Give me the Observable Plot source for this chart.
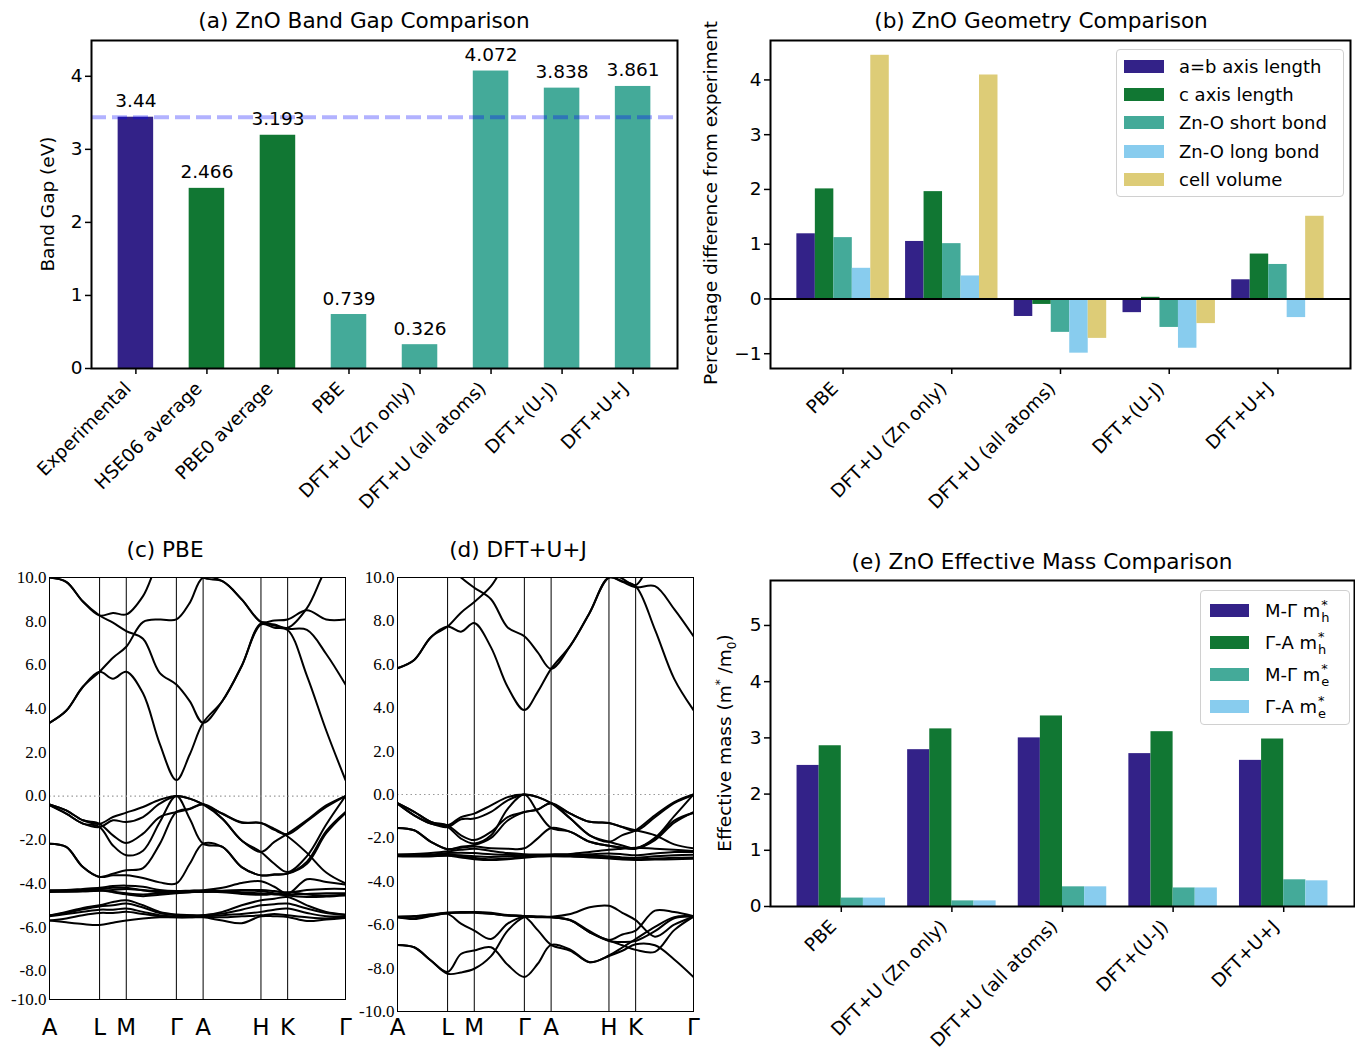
<!DOCTYPE html>
<html>
<head>
<meta charset="utf-8">
<script src="https://cdn.jsdelivr.net/npm/d3@7"></script>
<script src="https://cdn.jsdelivr.net/npm/@observablehq/plot@0.6"></script>
<style>
html,body{margin:0;padding:0;background:#fff;}
#fig{position:relative;width:1355px;height:1057px;overflow:hidden;background:#fff;font-family:"DejaVu Sans",sans-serif;color:#000;}
.panel{position:absolute;}
.panel svg{overflow:visible;display:block;}
.title{position:absolute;font-size:21.6px;transform:translate(-50%,-50%);white-space:nowrap;}
.ylab{position:absolute;font-size:18.5px;transform:translate(-50%,-50%) rotate(-90deg);white-space:nowrap;}
.legend{position:absolute;box-sizing:border-box;background:rgba(255,255,255,0.85);border:1px solid #d0d0d0;border-radius:4px;font-size:18px;}
.row{display:flex;align-items:center;white-space:nowrap;}
.sw{flex:none;}
.ss{position:relative;display:inline-block;width:9px;height:14px;vertical-align:baseline;}
.ss span{position:absolute;left:1px;font-size:13px;line-height:13px;}
</style>
</head>
<body>
<div id="fig"></div>
<script>
// ---------------- (a) band gap data ----------------
const gapCategories = ["Experimental","HSE06 average","PBE0 average","PBE","DFT+U (Zn only)","DFT+U (all atoms)","DFT+(U-J)","DFT+U+J"];
const gapValues = [3.44, 2.466, 3.193, 0.739, 0.326, 4.072, 3.838, 3.861];
const gapLabels = ["3.44","2.466","3.193","0.739","0.326","4.072","3.838","3.861"];
const gapGroup = ["Experiment","Hybrid","Hybrid","DFT","DFT","DFT","DFT","DFT"];
const gapGroupNames = ["Experiment","Hybrid","DFT"];
const gapColors = ["#332288","#117733","#44AA99"];
const experimentalGap = 3.44;

// ---------------- (b) geometry data ----------------
const geomMethods = ["PBE","DFT+U (Zn only)","DFT+U (all atoms)","DFT+(U-J)","DFT+U+J"];
const geomSeries = ["a=b axis length","c axis length","Zn-O short bond","Zn-O long bond","cell volume"];
const geomColors = ["#332288","#117733","#44AA99","#88CCEE","#DDCC77"];
const geomAB    = [1.19, 1.05, -0.32, -0.25, 0.35];
const geomC     = [2.01, 1.96, -0.10, 0.03, 0.82];
const geomShort = [1.12, 1.01, -0.61, -0.52, 0.63];
const geomLong  = [0.56, 0.42, -0.99, -0.90, -0.34];
const geomVol   = [4.45, 4.09, -0.72, -0.45, 1.51];

// ---------------- (e) effective mass data ----------------
const massMethods = ["PBE","DFT+U (Zn only)","DFT+U (all atoms)","DFT+(U-J)","DFT+U+J"];
const massSeries = ["M-Γ mh*","Γ-A mh*","M-Γ me*","Γ-A me*"];
const massSeriesBase = ["M-Γ m","Γ-A m","M-Γ m","Γ-A m"];
const massSeriesSub = ["h","h","e","e"];
const massColors = ["#332288","#117733","#44AA99","#88CCEE"];
const massMGh = [2.51, 2.79, 3.00, 2.72, 2.60];
const massGAh = [2.86, 3.16, 3.39, 3.11, 2.98];
const massMGe = [0.15, 0.10, 0.35, 0.33, 0.475];
const massGAe = [0.15, 0.10, 0.35, 0.33, 0.457];

// ---------------- band structures ----------------
const kGrid  = [0, 0.333, 0.667, 1, 1.267, 1.533, 1.867, 2.2, 2.533, 2.8, 3.067, 3.452, 3.837, 4.222, 4.489, 4.755, 5.140, 5.525, 5.910];
const kTicks = [0, 1, 1.533, 2.533, 3.067, 4.222, 4.755, 5.910];
const kLabels = ["A","L","M","Γ","A","H","K","Γ"];
const bandTickLabels = ["10.0","8.0","6.0","4.0","2.0","0.0","-2.0","-4.0","-6.0","-8.0","-10.0"];
const pbeTickValues = [10,8,6,4,2,0,-2,-4,-6,-8,-9.31];
const dftTickValues = [10,8,6,4,2,0,-2,-4,-6,-8,-10];

// (c) PBE bands, energies (eV) at kGrid
const pbeC1 = [3.35, 3.9, 5.0, 5.69, 5.37, 5.69, 4.7, 2.4, 0.73, 1.9, 3.35, 4.35, 5.95, 7.85, 7.7, 7.6, 5.5, 3.0, 0.73];
const pbeC2 = [10.0, 9.8, 8.9, 8.26, 7.93, 7.55, 7.2, 5.64, 5.1, 4.34, 3.35, 4.35, 5.95, 7.9, 7.8, 7.65, 7.6, 6.5, 5.1];
const pbeC3 = [3.35, 3.9, 5.0, 5.69, 6.33, 6.83, 7.96, 8.08, 8.08, 8.84, 10.0, 9.83, 9.0, 7.97, 8.03, 8.08, 8.5, 8.08, 8.08];
const pbeC4 = [10.0, 9.8, 8.9, 8.26, 8.38, 8.31, 9.15, 10.8, 11.5, 10.8, 10.0, 9.83, 9.0, 7.97, 7.85, 7.7, 8.6, 10.4, 11.5];
const pbeV1 = [-0.38, -0.66, -1.11, -1.27, -0.96, -0.76, -0.5, -0.17, 0, -0.12, -0.38, -0.8, -1.2, -1.23, -1.5, -1.85, -2.6, -3.5, -4.0];
const pbeV2 = [-0.42, -0.81, -1.26, -1.42, -1.11, -1.19, -0.96, -0.35, 0, -0.12, -0.38, -1.04, -2.03, -2.56, -2.1, -1.72, -1.1, -0.43, 0];
const pbeV3 = [-0.38, -0.66, -1.11, -1.27, -1.8, -2.15, -1.72, -0.96, -0.73, -0.6, -0.38, -0.82, -1.22, -1.23, -1.55, -1.75, -1.15, -0.5, 0];
const pbeV4 = [-0.42, -0.81, -1.26, -1.42, -2.26, -2.71, -2.5, -1.2, 0, -1.04, -2.18, -2.33, -3.25, -3.63, -3.6, -3.55, -3.0, -1.6, -0.73];
const pbeV5 = [-2.18, -2.33, -3.25, -3.7, -3.55, -3.4, -3.3, -2.2, -0.73, -0.58, -0.38, -1.04, -2.03, -2.56, -3.1, -3.48, -2.75, -1.3, 0];
const pbeV6 = [-2.18, -2.33, -3.25, -3.7, -3.63, -3.63, -3.75, -3.95, -4.0, -3.1, -2.18, -2.33, -3.25, -3.63, -3.58, -3.55, -3.1, -1.7, -0.78];
const pbeD1 = [-4.31, -4.3, -4.25, -4.2, -4.12, -4.1, -4.15, -4.3, -4.35, -4.33, -4.31, -4.2, -3.98, -3.9, -4.15, -4.47, -3.81, -3.93, -4.05];
const pbeD2 = [-4.33, -4.32, -4.3, -4.25, -4.2, -4.2, -4.3, -4.35, -4.36, -4.34, -4.33, -4.33, -4.3, -4.3, -4.35, -4.42, -4.3, -4.25, -4.25];
const pbeD3 = [-4.35, -4.35, -4.33, -4.3, -4.38, -4.45, -4.5, -4.45, -4.4, -4.37, -4.35, -4.37, -4.42, -4.45, -4.5, -4.52, -4.48, -4.45, -4.45];
const pbeD4 = [-4.37, -4.37, -4.36, -4.32, -4.4, -4.5, -4.58, -4.52, -4.45, -4.4, -4.37, -4.4, -4.48, -4.52, -4.48, -4.4, -4.5, -4.55, -4.52];
const pbeD5 = [-4.39, -4.38, -4.36, -4.33, -4.3, -4.25, -4.32, -4.4, -4.42, -4.4, -4.39, -4.37, -4.33, -4.35, -4.45, -4.55, -4.62, -4.6, -4.55];
const pbeD6 = [-5.46, -5.3, -5.12, -5.0, -4.85, -4.77, -5.0, -5.3, -5.42, -5.45, -5.46, -5.3, -5.0, -4.77, -4.7, -4.62, -5.0, -5.3, -5.42];
const pbeD7 = [-5.46, -5.35, -5.18, -5.05, -5.0, -4.92, -5.1, -5.35, -5.45, -5.46, -5.46, -5.38, -5.2, -5.0, -4.95, -4.92, -5.15, -5.35, -5.45];
const pbeD8 = [-5.5, -5.4, -5.3, -5.2, -5.2, -5.15, -5.3, -5.45, -5.5, -5.5, -5.5, -5.45, -5.4, -5.3, -5.2, -5.15, -5.35, -5.5, -5.5];
const pbeD9 = [-5.69, -5.6, -5.45, -5.35, -5.35, -5.3, -5.4, -5.5, -5.55, -5.55, -5.53, -5.55, -5.5, -5.46, -5.4, -5.46, -5.55, -5.6, -5.55];
const pbeD10 = [-5.69, -5.78, -5.86, -5.9, -5.8, -5.69, -5.6, -5.55, -5.55, -5.55, -5.55, -5.7, -5.82, -5.5, -5.5, -5.53, -5.72, -5.65, -5.58];
const pbeBandList = [pbeC1,pbeC2,pbeC3,pbeC4,pbeV1,pbeV2,pbeV3,pbeV4,pbeV5,pbeV6,pbeD1,pbeD2,pbeD3,pbeD4,pbeD5,pbeD6,pbeD7,pbeD8,pbeD9,pbeD10];

// (d) DFT+U+J bands
const dftC1 = [5.82, 6.2, 7.25, 7.74, 7.5, 7.9, 6.78, 4.95, 3.89, 4.73, 5.79, 6.86, 8.38, 10.0, 9.83, 9.6, 7.6, 5.33, 3.89];
const dftC2 = [5.82, 6.2, 7.25, 7.74, 8.38, 8.87, 9.6, 10.8, 11.5, 11.2, 10.9, 11.0, 11.0, 10.3, 9.95, 9.65, 11.0, 11.5, 11.5];
const dftC3 = [12.4, 12.0, 11.2, 10.6, 10.0, 9.53, 9.0, 7.7, 7.29, 6.55, 5.79, 6.86, 8.38, 10.0, 9.8, 9.55, 9.6, 8.54, 7.29];
const dftU1 = [-0.4, -0.8, -1.26, -1.42, -1.04, -0.88, -0.5, -0.12, 0, -0.12, -0.4, -0.88, -1.26, -1.31, -1.5, -1.65, -1.88, -2.3, -2.48];
const dftU2 = [-0.42, -0.96, -1.34, -1.5, -1.14, -1.11, -0.8, -0.27, 0, -0.12, -0.4, -1.11, -1.88, -2.18, -1.87, -1.65, -0.96, -0.35, 0];
const dftU3 = [-0.4, -0.8, -1.26, -1.42, -1.88, -2.1, -1.72, -1.04, -0.81, -0.69, -0.4, -0.88, -1.26, -1.31, -1.5, -1.68, -1.05, -0.4, -0.02];
const dftU4 = [-0.42, -0.96, -1.34, -1.5, -2.03, -2.26, -1.88, -0.66, 0, -0.81, -1.54, -1.72, -2.18, -2.36, -2.45, -2.48, -2.05, -1.2, -0.85];
const dftU5 = [-1.54, -1.65, -2.18, -2.52, -2.41, -2.33, -2.0, -1.2, -0.81, -0.69, -0.4, -1.11, -1.88, -2.18, -2.35, -2.48, -2.0, -1.0, 0];
const dftU6 = [-1.54, -1.65, -2.18, -2.52, -2.45, -2.4, -2.48, -2.5, -2.48, -2.02, -1.54, -1.72, -2.18, -2.36, -2.45, -2.5, -2.1, -1.3, -0.81];
const dftF1 = [-2.76, -2.74, -2.7, -2.62, -2.55, -2.5, -2.6, -2.7, -2.75, -2.76, -2.76, -2.74, -2.65, -2.55, -2.5, -2.45, -2.5, -2.55, -2.6];
const dftF2 = [-2.78, -2.78, -2.76, -2.7, -2.68, -2.7, -2.75, -2.78, -2.8, -2.8, -2.78, -2.78, -2.75, -2.72, -2.75, -2.8, -2.72, -2.65, -2.65];
const dftF3 = [-2.8, -2.8, -2.8, -2.78, -2.8, -2.85, -2.88, -2.85, -2.82, -2.81, -2.8, -2.8, -2.8, -2.85, -2.9, -2.92, -2.85, -2.8, -2.78];
const dftF4 = [-2.82, -2.83, -2.84, -2.8, -2.85, -2.92, -2.98, -2.95, -2.88, -2.84, -2.82, -2.83, -2.86, -2.9, -2.96, -2.98, -2.95, -2.92, -2.9];
const dftF5 = [-2.84, -2.86, -2.85, -2.82, -2.9, -2.98, -3.02, -2.98, -2.92, -2.86, -2.84, -2.86, -2.9, -2.95, -3.0, -3.02, -3.0, -2.98, -2.96];
const dftW1 = [-5.63, -5.6, -5.52, -5.44, -5.42, -5.41, -5.45, -5.55, -5.6, -5.62, -5.63, -5.51, -5.2, -5.13, -5.45, -5.79, -6.55, -6.0, -5.63];
const dftW2 = [-5.66, -5.74, -5.6, -5.46, -5.44, -5.43, -5.5, -5.58, -5.62, -5.64, -5.66, -5.8, -6.35, -6.73, -6.95, -7.16, -7.25, -6.25, -5.63];
const dftW3 = [-5.63, -5.62, -5.55, -5.5, -5.95, -6.27, -6.66, -5.95, -5.62, -5.63, -5.65, -5.78, -6.3, -6.7, -6.45, -6.27, -5.35, -5.42, -5.6];
const dftW4 = [-5.66, -5.7, -5.58, -5.46, -5.45, -5.45, -5.5, -5.58, -5.63, -6.25, -6.93, -7.2, -7.73, -7.42, -7.05, -6.66, -6.1, -5.65, -5.62];
const dftW5 = [-6.93, -7.04, -7.65, -8.18, -7.35, -7.19, -7.04, -7.85, -8.41, -7.8, -6.93, -7.15, -7.73, -7.44, -7.2, -6.9, -6.95, -7.6, -8.41];
const dftW6 = [-6.93, -7.04, -7.65, -8.26, -8.2, -8.03, -7.45, -6.27, -5.65, -5.66, -5.66, -5.8, -6.35, -6.75, -6.8, -6.75, -6.3, -5.7, -5.63];
const dftBandList = [dftC1,dftC2,dftC3,dftU1,dftU2,dftU3,dftU4,dftU5,dftU6,dftF1,dftF2,dftF3,dftF4,dftF5,dftW1,dftW2,dftW3,dftW4,dftW5,dftW6];

// ---------------- helpers ----------------
const fig = document.getElementById("fig");
function place(el, left, top){
  const d = document.createElement("div"); d.className = "panel";
  d.style.left = left + "px"; d.style.top = top + "px";
  d.appendChild(el); fig.appendChild(d);
}
function addText(cls, html, x, y){
  const d = document.createElement("div"); d.className = cls; d.innerHTML = html;
  d.style.left = x + "px"; d.style.top = y + "px"; fig.appendChild(d);
}
const baseStyle = {fontFamily: "DejaVu Sans", fontSize: "18.5px", color: "#000", background: "none", overflow: "visible"};
const intFmt = d => d < 0 ? "\u2212" + Math.abs(d) : String(d);
const FS = 18.5;
// category x-axis: tick marks and rotated labels as two axis marks
function catAxisX(names){
  return [
    Plot.axisX({ticks: d3.range(names.length), tickFormat: () => "", tickSize: 6, strokeWidth: 1.5, label: null}),
    Plot.axisX({ticks: d3.range(names.length), tickFormat: i => names[i], tickRotate: -45, tickSize: 0, tickPadding: 9, label: null, fontSize: FS, dx: -8, dy: 8})
  ];
}

// ---------------- (a) ----------------
const gapData = gapCategories.map((c, i) => ({i, name: c, v: gapValues[i], label: gapLabels[i], grp: gapGroup[i]}));
place(Plot.plot({
  width: 680, height: 520, marginLeft: 91, marginRight: 3, marginTop: 40, marginBottom: 152,
  style: baseStyle,
  x: {type: "linear", domain: [-0.625, 7.625]},
  y: {domain: [0, 4.49]},
  color: {domain: gapGroupNames, range: gapColors},
  marks: [
    Plot.rectY(gapData, {x1: d => d.i - 0.25, x2: d => d.i + 0.25, y1: d => 0, y2: "v", fill: "grp"}),
    Plot.ruleY([experimentalGap], {stroke: "blue", strokeOpacity: 0.3, strokeWidth: 4, strokeDasharray: "15,6"}),
    Plot.text(gapData, {x: "i", y: "v", text: "label", dy: -10, lineAnchor: "bottom", fontSize: FS}),
    ...catAxisX(gapCategories),
    Plot.axisY({ticks: [0,1,2,3,4], tickFormat: intFmt, tickSize: 6, strokeWidth: 1.5, label: null, fontSize: FS}),
    Plot.frame({stroke: "black", strokeWidth: 2})
  ]
}), 0, 0);
addText("title", "(a) ZnO Band Gap Comparison", 364, 20);
addText("ylab", "Band Gap (eV)", 47, 204);

// ---------------- (b) ----------------
const geomValues = [geomAB, geomC, geomShort, geomLong, geomVol];
const geomData = [];
geomSeries.forEach((s, si) => geomValues[si].forEach((v, gi) => geomData.push({gi, si, s, v})));
const gw = 0.17;
place(Plot.plot({
  width: 675, height: 520, marginLeft: 90, marginRight: 5, marginTop: 40, marginBottom: 152,
  style: baseStyle,
  x: {type: "linear", domain: [-0.6675, 4.6675]},
  y: {domain: [-1.27, 4.72]},
  color: {domain: geomSeries, range: geomColors},
  marks: [
    Plot.rectY(geomData, {x1: d => d.gi + (d.si - 2.5) * gw, x2: d => d.gi + (d.si - 1.5) * gw, y1: d => 0, y2: "v", fill: "s"}),
    Plot.ruleY([0], {stroke: "black", strokeWidth: 2}),
    ...catAxisX(geomMethods),
    Plot.axisY({ticks: [-1,0,1,2,3,4], tickFormat: intFmt, tickSize: 6, strokeWidth: 1.5, label: null, fontSize: FS}),
    Plot.frame({stroke: "black", strokeWidth: 2})
  ]
}), 680, 0);
addText("title", "(b) ZnO Geometry Comparison", 1041, 20);
addText("ylab", "Percentage difference from experiment", 710, 203);

// legend (b)
(function(){
  const lg = document.createElement("div"); lg.className = "legend";
  Object.assign(lg.style, {left: "1116px", top: "49px", width: "228px", height: "148px", paddingTop: "2px", paddingLeft: "7px"});
  geomSeries.forEach((s, i) => {
    const r = document.createElement("div"); r.className = "row"; r.style.height = "28.33px";
    r.innerHTML = `<span class="sw" style="width:40px;height:13px;background:${geomColors[i]};margin-right:15px"></span><span>${s}</span>`;
    lg.appendChild(r);
  });
  fig.appendChild(lg);
})();

// ---------------- (e) ----------------
const massValues = [massMGh, massGAh, massMGe, massGAe];
const massData = [];
massSeries.forEach((s, si) => massValues[si].forEach((v, gi) => massData.push({gi, si, s, v})));
const mw = 0.2;
place(Plot.plot({
  width: 675, height: 527, marginLeft: 90, marginRight: 1, marginTop: 50, marginBottom: 151,
  style: baseStyle,
  x: {type: "linear", domain: [-0.64, 4.64]},
  y: {domain: [0, 5.8]},
  color: {domain: massSeries, range: massColors},
  marks: [
    Plot.rectY(massData, {x1: d => d.gi + (d.si - 2) * mw, x2: d => d.gi + (d.si - 1) * mw, y1: d => 0, y2: "v", fill: "s"}),
    ...catAxisX(massMethods),
    Plot.axisY({ticks: [0,1,2,3,4,5], tickFormat: intFmt, tickSize: 6, strokeWidth: 1.5, label: null, fontSize: FS}),
    Plot.frame({stroke: "black", strokeWidth: 2})
  ]
}), 680, 530);
addText("title", "(e) ZnO Effective Mass Comparison", 1042, 561);
addText("ylab", 'Effective mass (m<sup style="font-size:12px">*</sup> /m<sub style="font-size:12px">0</sub>)', 726, 743);

// legend (e)
(function(){
  const lg = document.createElement("div"); lg.className = "legend";
  Object.assign(lg.style, {left: "1200px", top: "590px", width: "150px", height: "135px", paddingTop: "3px", paddingLeft: "9px"});
  massSeries.forEach((s, i) => {
    const r = document.createElement("div"); r.className = "row"; r.style.height = "32px";
    r.innerHTML = `<span class="sw" style="width:39px;height:13px;background:${massColors[i]};margin-right:16px"></span><span>${massSeriesBase[i]}<span class="ss"><span style="top:-5px">*</span><span style="top:8px">${massSeriesSub[i]}</span></span></span>`;
    lg.appendChild(r);
  });
  fig.appendChild(lg);
})();

// ---------------- (c), (d) band structures ----------------
function bandPlot(bands, yDomain, yTickValues, opts){
  const data = [];
  bands.forEach((b, bi) => b.forEach((e, j) => data.push({band: bi, k: kGrid[j], e})));
  return Plot.plot({
    width: opts.width, height: opts.height,
    marginLeft: opts.ml, marginRight: opts.mr, marginTop: opts.mt, marginBottom: opts.mb,
    style: {...baseStyle, fontFamily: "Liberation Serif", fontSize: "17px"},
    x: {type: "linear", domain: [kTicks[0], kTicks[kTicks.length - 1]]},
    y: {domain: yDomain},
    marks: [
      Plot.ruleX(kTicks.slice(1, -1), {stroke: "black", strokeWidth: 1}),
      Plot.ruleY([0], {stroke: "#999", strokeWidth: 1.2, strokeDasharray: "1.5,3"}),
      Plot.line(data, {x: "k", y: "e", z: "band", curve: "catmull-rom", stroke: "black", strokeWidth: 2, clip: true}),
      Plot.axisY({ticks: yTickValues, tickFormat: (d, i) => bandTickLabels[i], tickSize: 0, tickPadding: 3, label: null, fontFamily: "Liberation Serif", fontSize: 17}),
      Plot.axisX({ticks: kTicks, tickFormat: (d, i) => kLabels[i], tickSize: 0, tickPadding: opts.xpad, label: null, fontFamily: "DejaVu Sans", fontSize: 23}),
      Plot.frame({stroke: "black", strokeWidth: 1})
    ]
  });
}
place(bandPlot(pbeBandList, [-9.31, 10], pbeTickValues, {width: 352, height: 497, ml: 49, mr: 7, mt: 17, mb: 58, xpad: 19}), 0, 560);
place(bandPlot(dftBandList, [-10, 10], dftTickValues, {width: 355, height: 497, ml: 47, mr: 12, mt: 17, mb: 46, xpad: 7}), 350, 560);
addText("title", "(c) PBE", 165, 549);
addText("title", "(d) DFT+U+J", 518, 549);
</script>
</body>
</html>
